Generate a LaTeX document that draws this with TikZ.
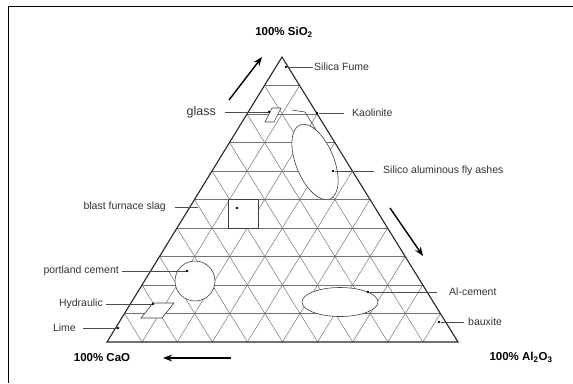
\documentclass[tikz,border=0pt]{standalone}
\usepackage{fontspec}
\setmainfont{Liberation Sans}
\usetikzlibrary{arrows.meta,calc,shapes.geometric}

\begin{document}
\begin{tikzpicture}[x=1pt,y=-1pt,
  grid/.style={draw=black!55,line width=.5pt},
  edge/.style={draw=black!85,line width=1.1pt},
  region/.style={draw=black!75,line width=.6pt,fill=white},
  dot/.style={circle,fill=black,inner sep=0pt,minimum size=2.6pt},
  lead/.style={draw=black!70,line width=.6pt},
  tag/.style={font=\fontsize{10.5}{12}\selectfont,text=black!80,inner sep=0pt},
  corner/.style={font=\fontsize{11.5}{13}\selectfont\bfseries,inner sep=0pt},
  trend/.style={-{Stealth[length=3.2mm,width=2.4mm]},line width=1.4pt}
]
\useasboundingbox (0,0) rectangle (573,383);
\draw[line width=.9pt] (8,383) -- (8,6) -- (573,6);
\coordinate (cao) at (107,342);
\coordinate (alo) at (458,342);
\coordinate (sio) at (282,57);
\foreach \k in {1,...,9} {
  \draw[grid] ($(sio)!\k/10!(cao)$) -- ($(sio)!\k/10!(alo)$);
  \draw[grid] ($(cao)!\k/10!(alo)$) -- ($(sio)!\k/10!(alo)$);
  \draw[grid] ($(alo)!\k/10!(cao)$) -- ($(sio)!\k/10!(cao)$);
}
\draw[region,fill=none] (292,110) -- (305,112) -- (326,146);
\node[region,ellipse,minimum width=38,minimum height=80,rotate=22] (flyash) at (315,162) {};
\draw[region] (265,122) -- (272,108) -- (281,108) -- (274,122) -- cycle;
\draw[region] (228,199.5) rectangle (258,228);
\node[region,circle,minimum size=40] (portland) at (195,281) {};
\draw[region] (141,318) -- (153,303) -- (174,303) -- (162,318) -- cycle;
\node[region,ellipse,minimum width=76,minimum height=29] (alcement) at (340,302) {};
\draw[edge] (cao) -- (alo) -- (sio) -- cycle;

\node[dot] (fumedot) at (286,67) {};
\node[dot] (glassdot) at (269,112) {};
\node[dot] (kaodot) at (317,113) {};
\node[dot] (ashdot) at (333,171) {};
\node[dot] (slagdot) at (237,208) {};
\coordinate (slagend) at (198,207);
\node[dot] (portdot) at (187,271) {};
\node[dot] (hyddot) at (153,304) {};
\node[dot] (limedot) at (118,328) {};
\node[dot] (aldot) at (368,292) {};
\node[dot] (baudot) at (439,322) {};

\node[tag,anchor=west] (fume) at (314,67) {Silica Fume};
\node[tag,anchor=west] (kaolin) at (352,113) {Kaolinite};
\node[tag,anchor=west] (ashes) at (383,171) {Silico aluminous fly ashes};
\node[tag,anchor=west] (alcem) at (449,292) {Al-cement};
\node[tag,anchor=west] (bauxite) at (468,322) {bauxite};
\node[tag,anchor=east,font=\fontsize{12.5}{14}\selectfont] (glass) at (216,112) {glass};
\node[tag,anchor=east] (slag) at (166,207) {blast furnace slag};
\node[tag,anchor=east] (cement) at (119,271) {portland cement};
\node[tag,anchor=east] (hydraulic) at (103,304) {Hydraulic};
\node[tag,anchor=east] (lime) at (76,328) {Lime};

\draw[lead,shorten <=1pt] (fume.west) -- (fumedot);
\draw[lead,shorten <=8pt] (kaolin.west) -- (kaodot);
\draw[lead,shorten <=9pt] (ashes.west) -- (ashdot);
\draw[lead,shorten <=12pt] (alcem.west) -- (aldot);
\draw[lead,shorten <=4pt] (bauxite.west) -- (baudot);
\draw[lead,shorten <=9pt] (glass.east) -- (glassdot);
\draw[lead,shorten <=9pt] (slag.east) -- (slagend);
\draw[lead,shorten <=3pt] (cement.east) -- (portdot);
\draw[lead,shorten <=3pt] (hydraulic.east) -- (hyddot);
\draw[lead,shorten <=7pt] (lime.east) -- (limedot);

\node[corner] (sitop) at (284,32) {100\% SiO\textsubscript{2}};
\node[corner] (cabot) at (102,358) {100\% CaO};
\node[corner] (albot) at (521,357) {100\% Al\textsubscript{2}O\textsubscript{3}};

\coordinate (up0) at (229,100);
\coordinate (up1) at (262,57);
\coordinate (dn0) at (390,208);
\coordinate (dn1) at (423,256);
\coordinate (lf0) at (231,358);
\coordinate (lf1) at (163,358);
\draw[trend] (up0) -- (up1);
\draw[trend] (dn0) -- (dn1);
\draw[trend] (lf0) -- (lf1);
\end{tikzpicture}
\end{document}
